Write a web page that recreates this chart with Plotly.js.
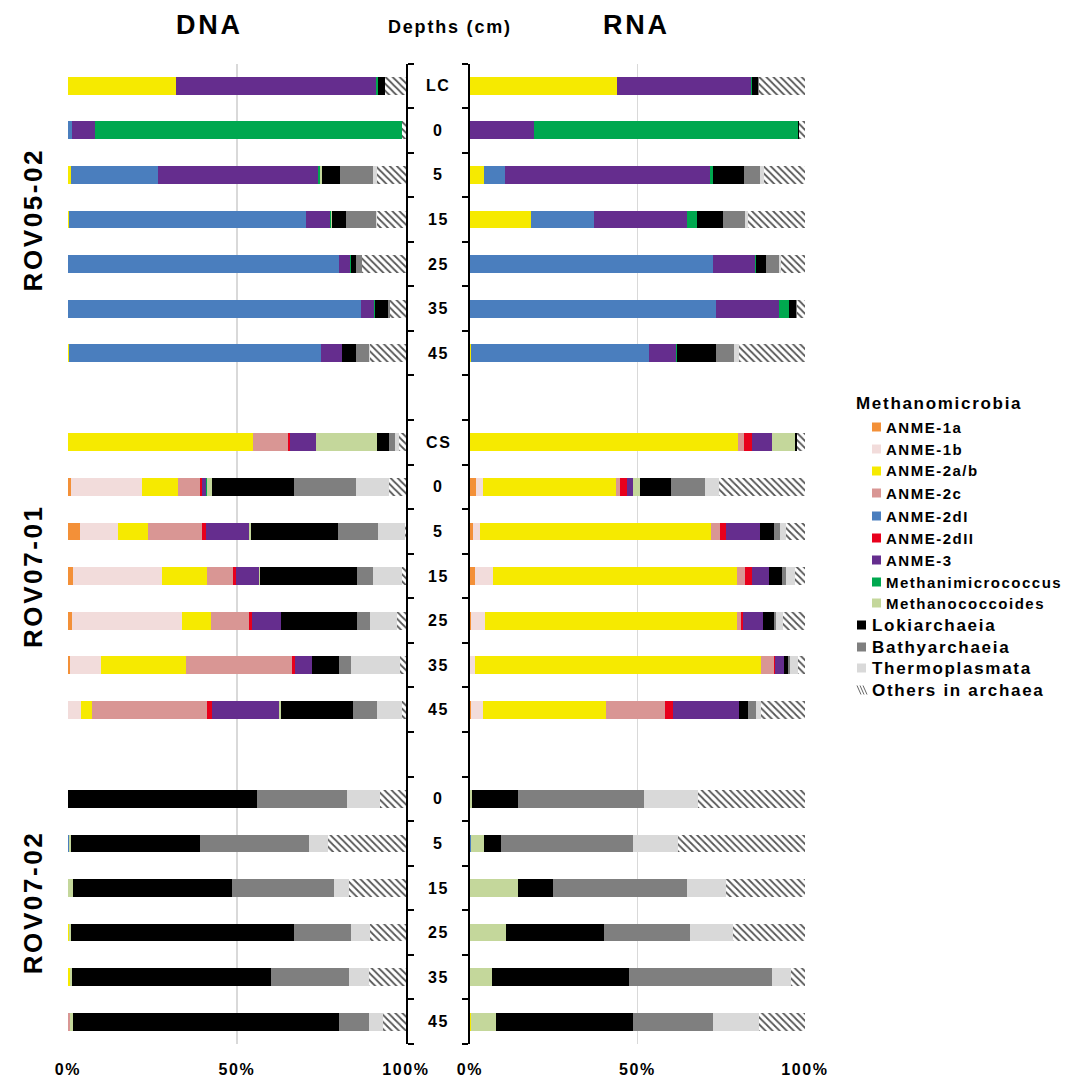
<!DOCTYPE html>
<html>
<head>
<meta charset="utf-8">
<script src="https://cdn.plot.ly/plotly-3.0.1.min.js"></script>
<style>
  html, body { margin: 0; padding: 0; background: #ffffff; }
  #chart { width: 1084px; height: 1086px; }
  text { letter-spacing: 0.1em; }
</style>
</head>
<body>
<div id="chart"></div>
<script>
// ---------------- DATA ----------------
const groupNames = ['ROV05-02', 'ROV07-01', 'ROV07-02'];
const depthsROV0502 = ['LC', '0', '5', '15', '25', '35', '45'];
const depthsROV0701 = ['CS', '0', '5', '15', '25', '35', '45'];
const depthsROV0702 = ['0', '5', '15', '25', '35', '45'];
const panelTitles = ['DNA', 'RNA'];
const depthTitle = 'Depths (cm)';
const xTickVals = [0, 50, 100];
const xTickText = ['0%', '50%', '100%'];

const seriesNames = ['ANME-1a', 'ANME-1b', 'ANME-2a/b', 'ANME-2c', 'ANME-2dI', 'ANME-2dII', 'ANME-3',
  'Methanimicrococcus', 'Methanococcoides', 'Lokiarchaeia', 'Bathyarchaeia', 'Thermoplasmata', 'Others in archaea'];
const legendGroupTitle = 'Methanomicrobia';
const seriesColors = ['#F39038', '#F2DCDB', '#F6EA00', '#D99694', '#4A7EBE', '#E8001C', '#652D8E',
  '#00A84F', '#C4D79B', '#000000', '#7F7F7F', '#D9D9D9', '#FFFFFF'];

// DNA (rows: ROV05-02 LC..45, ROV07-01 CS..45, ROV07-02 0..45)
const dnaANME1a  = [0,0,0,0,0,0,0, 0,0.9,3.6,1.4,1.2,0.6,0, 0,0,0,0,0,0];
const dnaANME1b  = [0,0,0,0,0,0,0, 0,20.9,11.2,26.4,32.6,9.3,3.7, 0,0,0,0,0,0];
const dnaANME2ab = [31.9,0,0.8,0.2,0,0,0.2, 54.6,10.6,8.8,13.4,8.4,24.9,3.5, 0,0,0,0.3,0.6,0];
const dnaANME2c  = [0,0,0,0,0,0,0, 10.4,6.7,16.1,7.7,11.3,31.4,34.0, 0,0,0,0,0,0.5];
const dnaANME2dI = [0,1.3,25.7,70.3,80.2,86.7,74.6, 0,0,0,0,0,0,0, 0,0.3,0,0,0,0];
const dnaANME2dII= [0,0,0,0,0,0,0, 0.6,0.4,1.2,0.7,1.0,1.1,1.4, 0,0,0,0,0,0];
const dnaANME3   = [59.3,6.7,47.5,7.1,3.2,3.9,6.3, 7.9,1.4,12.6,6.8,8.4,5.0,19.9, 0,0,0,0,0,0];
const dnaMethanimicrococcus = [0.5,90.8,0.6,0.3,0.4,0.2,0.1, 0,0.3,0,0,0,0,0, 0,0,0,0,0,0];
const dnaMethanococcoides   = [0,0,0.4,0.2,0,0,0, 18.0,1.5,0.5,0.4,0.2,0,0.4, 0,0.6,1.4,0.5,0.5,0.9];
const dnaLokiarchaeia  = [2.2,0,5.5,4.1,1.4,3.8,3.9, 3.5,24.2,25.9,28.8,22.3,7.9,21.5, 55.9,38.2,47.1,66.1,59.1,78.8];
const dnaBathyarchaeia = [0,0,9.6,9.0,1.9,0.6,3.9, 1.7,18.2,11.8,4.6,3.8,3.5,7.1, 26.7,32.2,30.1,16.7,23.0,8.8];
const dnaThermoplasmata= [0,0,1.2,0.1,0,0,0.3, 1.3,9.8,7.9,8.5,8.0,14.4,7.3, 9.6,5.6,4.5,5.7,5.9,4.1];
const dnaOthers  = [6.1,1.2,8.7,8.7,12.9,4.8,10.7, 2.0,5.1,0.4,1.3,2.8,1.9,1.2, 7.8,23.1,16.9,10.7,10.9,6.9];

// RNA
const rnaANME1a  = [0,0,0,0,0,0,0, 0,1.8,1.0,1.4,0.4,0,0.2, 0,0,0,0,0,0];
const rnaANME1b  = [0,0,0,0,0,0,0, 0,2.2,2.0,5.6,4.0,1.5,3.8, 0,0,0,0,0,0];
const rnaANME2ab = [44.0,0,4.2,18.1,0,0,0.4, 80.1,39.6,69.0,72.6,75.4,85.3,36.6, 0,0,0,0,0,0.4];
const rnaANME2c  = [0,0,0,0,0,0,0, 1.7,1.3,2.5,2.6,1.0,3.8,17.5, 0,0,0,0,0,0];
const rnaANME2dI = [0,0,6.1,18.8,72.6,73.4,53.1, 0,0,0,0,0,0,0, 0,0.3,0,0,0,0];
const rnaANME2dII= [0,0,0,0,0,0,0, 2.3,2.1,1.8,2.0,0.8,0.5,2.6, 0,0,0,0,0,0];
const rnaANME3   = [39.9,19.1,61.4,28.0,12.5,18.9,8.0, 6.0,1.8,10.3,5.1,5.8,2.7,19.5, 0,0,0,0,0,0];
const rnaMethanimicrococcus = [0.4,78.7,0.7,2.9,0.4,3.0,0.4, 0,0,0,0,0,0,0, 0,0,0,0,0,0];
const rnaMethanococcoides   = [0,0,0,0,0,0,0, 7.0,2.0,0,0,0,0,0, 0.6,3.9,14.4,10.7,6.6,7.4];
const rnaLokiarchaeia  = [1.6,0.4,9.4,7.8,3.0,2.0,11.4, 0.6,9.1,4.2,3.9,3.4,1.0,2.9, 13.8,5.0,10.4,29.2,40.9,40.8];
const rnaBathyarchaeia = [0.4,0,4.9,6.6,3.8,0.4,5.6, 0,10.3,1.6,1.2,0.6,0.6,2.3, 37.6,39.6,40.0,25.7,42.5,23.8];
const rnaThermoplasmata= [0,0,1.2,0.7,0.4,0,1.5, 0,4.0,1.8,2.7,2.0,2.4,1.6, 16.1,13.2,11.5,13.0,5.8,13.9];
const rnaOthers  = [13.7,1.8,12.1,17.1,7.3,2.3,19.6, 2.3,25.8,5.8,2.9,6.6,2.2,13.0, 31.9,38.0,23.7,21.4,4.2,13.7];

// ---------------- BUILD ----------------
const dnaSeries = [dnaANME1a, dnaANME1b, dnaANME2ab, dnaANME2c, dnaANME2dI, dnaANME2dII, dnaANME3,
  dnaMethanimicrococcus, dnaMethanococcoides, dnaLokiarchaeia, dnaBathyarchaeia, dnaThermoplasmata, dnaOthers];
const rnaSeries = [rnaANME1a, rnaANME1b, rnaANME2ab, rnaANME2c, rnaANME2dI, rnaANME2dII, rnaANME3,
  rnaMethanimicrococcus, rnaMethanococcoides, rnaLokiarchaeia, rnaBathyarchaeia, rnaThermoplasmata, rnaOthers];
const groupDepths = [depthsROV0502, depthsROV0701, depthsROV0702];

// row slots along a numeric category axis with one empty slot between groups
const rowPos = [], rowLabels = [], groupCenters = [];
let slot = 0;
groupDepths.forEach(function (g) {
  const start = slot;
  g.forEach(function (d) { rowPos.push(slot); rowLabels.push(d); slot++; });
  groupCenters.push((start + slot - 1) / 2);
  slot++;
});
const lastSlot = slot - 2;
const boundaryTicks = [];
for (let b = -0.5; b <= lastSlot + 0.5; b += 1) boundaryTicks.push(b);

const W = 1084, H = 1086;
const px = function (x) { return x / W; };
const py = function (y) { return 1 - y / H; };
const FONT = 'Liberation Sans, Arial, Helvetica, sans-serif';

function markerFor(i) {
  if (i === seriesNames.length - 1) {
    return { color: '#ffffff', line: { width: 0 },
      pattern: { shape: '\\', fgcolor: '#555555', bgcolor: '#ffffff', size: 5, solidity: 0.35 } };
  }
  return { color: seriesColors[i], line: { width: 0 } };
}

const traces = [];
seriesNames.forEach(function (name, i) {
  traces.push({ type: 'bar', orientation: 'h', name: name, x: dnaSeries[i], y: rowPos,
    xaxis: 'x', yaxis: 'y', width: 0.4, marker: markerFor(i), showlegend: false, hoverinfo: 'skip' });
  traces.push({ type: 'bar', orientation: 'h', name: name, x: rnaSeries[i], y: rowPos,
    xaxis: 'x2', yaxis: 'y2', width: 0.4, marker: markerFor(i), showlegend: false, hoverinfo: 'skip' });
});

const yDomain = [py(1044), py(63.5)];
const xAxisCommon = {
  range: [0, 100], tickmode: 'array', tickvals: xTickVals, ticktext: xTickText,
  showgrid: true, gridcolor: '#d9d9d9', gridwidth: 1.5, zeroline: false, showline: false,
  ticks: '', ticklabelstandoff: 14,
  tickfont: { family: FONT, size: 16, weight: 'bold', color: '#000' }, fixedrange: true
};
const yAxisCommon = {
  range: [lastSlot + 0.5, -0.5], domain: yDomain, tickmode: 'array', tickvals: boundaryTicks,
  showticklabels: false, ticks: 'outside', ticklen: 6, tickwidth: 2, tickcolor: '#000',
  showline: true, linecolor: '#000', linewidth: 2, showgrid: false, zeroline: false, fixedrange: true
};

const annotations = [];
const shapes = [];
// titles
annotations.push({ text: panelTitles[0], x: px(209), y: py(25), xref: 'paper', yref: 'paper',
  showarrow: false, xanchor: 'center', yanchor: 'middle', font: { family: FONT, size: 27, weight: 'bold', color: '#000' } });
annotations.push({ text: panelTitles[1], x: px(636), y: py(25), xref: 'paper', yref: 'paper',
  showarrow: false, xanchor: 'center', yanchor: 'middle', font: { family: FONT, size: 27, weight: 'bold', color: '#000' } });
annotations.push({ text: depthTitle, x: px(450), y: py(27), xref: 'paper', yref: 'paper',
  showarrow: false, xanchor: 'center', yanchor: 'middle', font: { family: FONT, size: 18, weight: 'bold', color: '#000' } });
// depth labels
rowPos.forEach(function (p, i) {
  annotations.push({ text: rowLabels[i], x: px(438), y: p, xref: 'paper', yref: 'y',
    showarrow: false, xanchor: 'center', yanchor: 'middle', font: { family: FONT, size: 16, weight: 'bold', color: '#000' } });
});
// group labels (last one sits a little higher in the original figure)
const groupShift = [0, 0, 8];
groupNames.forEach(function (g, i) {
  annotations.push({ text: g, x: px(33), y: groupCenters[i], xref: 'paper', yref: 'y', textangle: -90,
    yshift: groupShift[i],
    showarrow: false, xanchor: 'center', yanchor: 'middle', font: { family: FONT, size: 26, weight: 'bold', color: '#000' } });
});

// custom legend
annotations.push({ text: legendGroupTitle, x: px(854), y: py(404), xref: 'paper', yref: 'paper',
  showarrow: false, xanchor: 'left', yanchor: 'middle', font: { family: FONT, size: 17, weight: 'bold', color: '#000' } });
const legendY = [427, 449, 471, 493, 516, 538, 560, 582, 603, 625, 647, 668, 690];
seriesNames.forEach(function (name, i) {
  const sub = i < 9;
  const sx = sub ? 872 : 857;
  const tx = sub ? 884 : 870;
  const yc = legendY[i];
  annotations.push({ text: name, x: px(tx), y: py(yc), xref: 'paper', yref: 'paper',
    showarrow: false, xanchor: 'left', yanchor: 'middle',
    font: { family: FONT, size: sub ? 15 : 17, weight: 'bold', color: '#000' } });
  if (i === seriesNames.length - 1) {
    for (let k = 0; k < 3; k++) {
      const o = k * 3;
      shapes.push({ type: 'line', xref: 'paper', yref: 'paper',
        x0: px(sx + o), y0: py(yc - 4.5), x1: px(sx + o + 4), y1: py(yc + 4.5),
        line: { color: '#666666', width: 1 } });
    }
  } else {
    shapes.push({ type: 'rect', xref: 'paper', yref: 'paper',
      x0: px(sx), x1: px(sx + 9), y0: py(yc + 4.5), y1: py(yc - 4.5),
      fillcolor: seriesColors[i], line: { width: 0 } });
  }
});

const layout = {
  width: W, height: H, autosize: false,
  margin: { l: 0, r: 0, t: 0, b: 0, pad: 0 },
  paper_bgcolor: '#ffffff', plot_bgcolor: 'rgba(0,0,0,0)',
  barmode: 'stack', showlegend: false,
  font: { family: FONT, color: '#000' },
  xaxis: Object.assign({}, xAxisCommon, { domain: [px(68), px(406)], anchor: 'y' }),
  yaxis: Object.assign({}, yAxisCommon, { anchor: 'x', side: 'right' }),
  xaxis2: Object.assign({}, xAxisCommon, { domain: [px(470), px(805)], anchor: 'y2' }),
  yaxis2: Object.assign({}, yAxisCommon, { anchor: 'x2', side: 'left' }),
  annotations: annotations,
  shapes: shapes
};

Plotly.newPlot('chart', traces, layout, { staticPlot: true, displayModeBar: false });
</script>
</body>
</html>
